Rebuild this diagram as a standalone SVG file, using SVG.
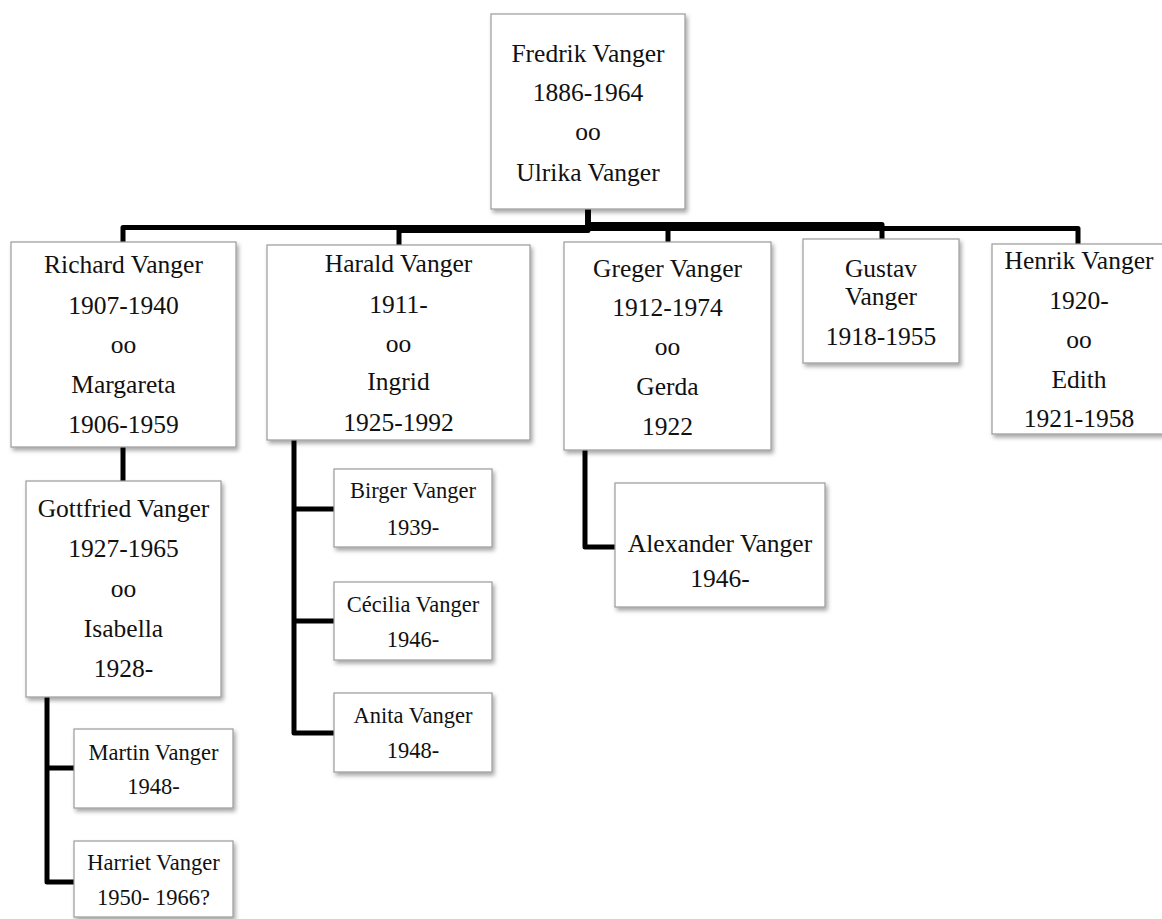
<svg xmlns="http://www.w3.org/2000/svg" width="1162" height="919" viewBox="0 0 1162 919">
<style>
.box{fill:#ffffff;stroke:#9a9a9a;stroke-width:1.2;filter:url(#sh)}
.t{font-family:"Liberation Serif","Times New Roman",serif;font-size:25.5px;fill:#111;text-anchor:middle}
.s{font-size:22.5px}
.c{fill:none;stroke:#000;stroke-width:5;stroke-linejoin:round}
</style>
<defs>
<filter id="sh" x="-10%" y="-10%" width="125%" height="130%">
<feDropShadow dx="2" dy="3" stdDeviation="2" flood-color="#000" flood-opacity="0.35"/>
</filter>
</defs>
<rect width="1162" height="919" fill="#ffffff"/>
<g id="connectors">
<path class="c" d="M588,209 V227.5 H123 V242"/>
<path class="c" d="M588,209 V230.5 H399 V245"/>
<path class="c" d="M588,209 V226.5 H668 V242"/>
<path class="c" d="M588,209 V224.5 H882 V239"/>
<path class="c" d="M588,209 V228.5 H1078 V244"/>
<path class="c" d="M123,447 V481"/>
<path class="c" d="M47,697 V882 H74 M47,768 H74"/>
<path class="c" d="M294,440 V733 H334 M294,509 H334 M294,621 H334"/>
<path class="c" d="M585,450 V547 H615"/>
</g>
<g id="fredrik">
<rect class="box" x="491" y="14" width="194" height="195"/>
<text class="t" x="588" y="62">Fredrik Vanger</text>
<text class="t" x="588" y="101">1886-1964</text>
<text class="t" x="588" y="140">oo</text>
<text class="t" x="588" y="181">Ulrika Vanger</text>
</g>
<g id="richard">
<rect class="box" x="11" y="242" width="225" height="205"/>
<text class="t" x="123.5" y="273">Richard Vanger</text>
<text class="t" x="123.5" y="314">1907-1940</text>
<text class="t" x="123.5" y="353">oo</text>
<text class="t" x="123.5" y="393">Margareta</text>
<text class="t" x="123.5" y="433">1906-1959</text>
</g>
<g id="harald">
<rect class="box" x="267" y="245" width="263" height="195"/>
<text class="t" x="398.5" y="272">Harald Vanger</text>
<text class="t" x="398.5" y="313">1911-</text>
<text class="t" x="398.5" y="352">oo</text>
<text class="t" x="398.5" y="390">Ingrid</text>
<text class="t" x="398.5" y="431">1925-1992</text>
</g>
<g id="greger">
<rect class="box" x="564" y="242" width="207" height="208"/>
<text class="t" x="667.5" y="277">Greger Vanger</text>
<text class="t" x="667.5" y="316">1912-1974</text>
<text class="t" x="667.5" y="355">oo</text>
<text class="t" x="667.5" y="395">Gerda</text>
<text class="t" x="667.5" y="435">1922</text>
</g>
<g id="gustav">
<rect class="box" x="803" y="239" width="156" height="124"/>
<text class="t" x="881" y="277">Gustav</text>
<text class="t" x="881" y="305">Vanger</text>
<text class="t" x="881" y="345">1918-1955</text>
</g>
<g id="henrik">
<rect class="box" x="992" y="244" width="174" height="190"/>
<text class="t" x="1079" y="269">Henrik Vanger</text>
<text class="t" x="1079" y="309">1920-</text>
<text class="t" x="1079" y="348">oo</text>
<text class="t" x="1079" y="388">Edith</text>
<text class="t" x="1079" y="427">1921-1958</text>
</g>
<g id="gottfried">
<rect class="box" x="26" y="481" width="195" height="216"/>
<text class="t" x="123.5" y="517">Gottfried Vanger</text>
<text class="t" x="123.5" y="557">1927-1965</text>
<text class="t" x="123.5" y="597">oo</text>
<text class="t" x="123.5" y="637">Isabella</text>
<text class="t" x="123.5" y="677">1928-</text>
</g>
<g id="martin">
<rect class="box" x="74" y="729" width="159" height="79"/>
<text class="t s" x="153.5" y="760">Martin Vanger</text>
<text class="t s" x="153.5" y="794">1948-</text>
</g>
<g id="harriet">
<rect class="box" x="74" y="841" width="159" height="76"/>
<text class="t s" x="153.5" y="870">Harriet Vanger</text>
<text class="t s" x="153.5" y="905">1950- 1966?</text>
</g>
<g id="birger">
<rect class="box" x="334" y="469" width="158" height="78"/>
<text class="t s" x="413" y="498">Birger Vanger</text>
<text class="t s" x="413" y="535">1939-</text>
</g>
<g id="cecilia">
<rect class="box" x="334" y="582" width="158" height="78"/>
<text class="t s" x="413" y="612">Cécilia Vanger</text>
<text class="t s" x="413" y="647">1946-</text>
</g>
<g id="anita">
<rect class="box" x="334" y="693" width="158" height="79"/>
<text class="t s" x="413" y="723">Anita Vanger</text>
<text class="t s" x="413" y="758">1948-</text>
</g>
<g id="alexander">
<rect class="box" x="615" y="483" width="210" height="124"/>
<text class="t" x="720" y="552">Alexander Vanger</text>
<text class="t" x="720" y="587">1946-</text>
</g>
</svg>
